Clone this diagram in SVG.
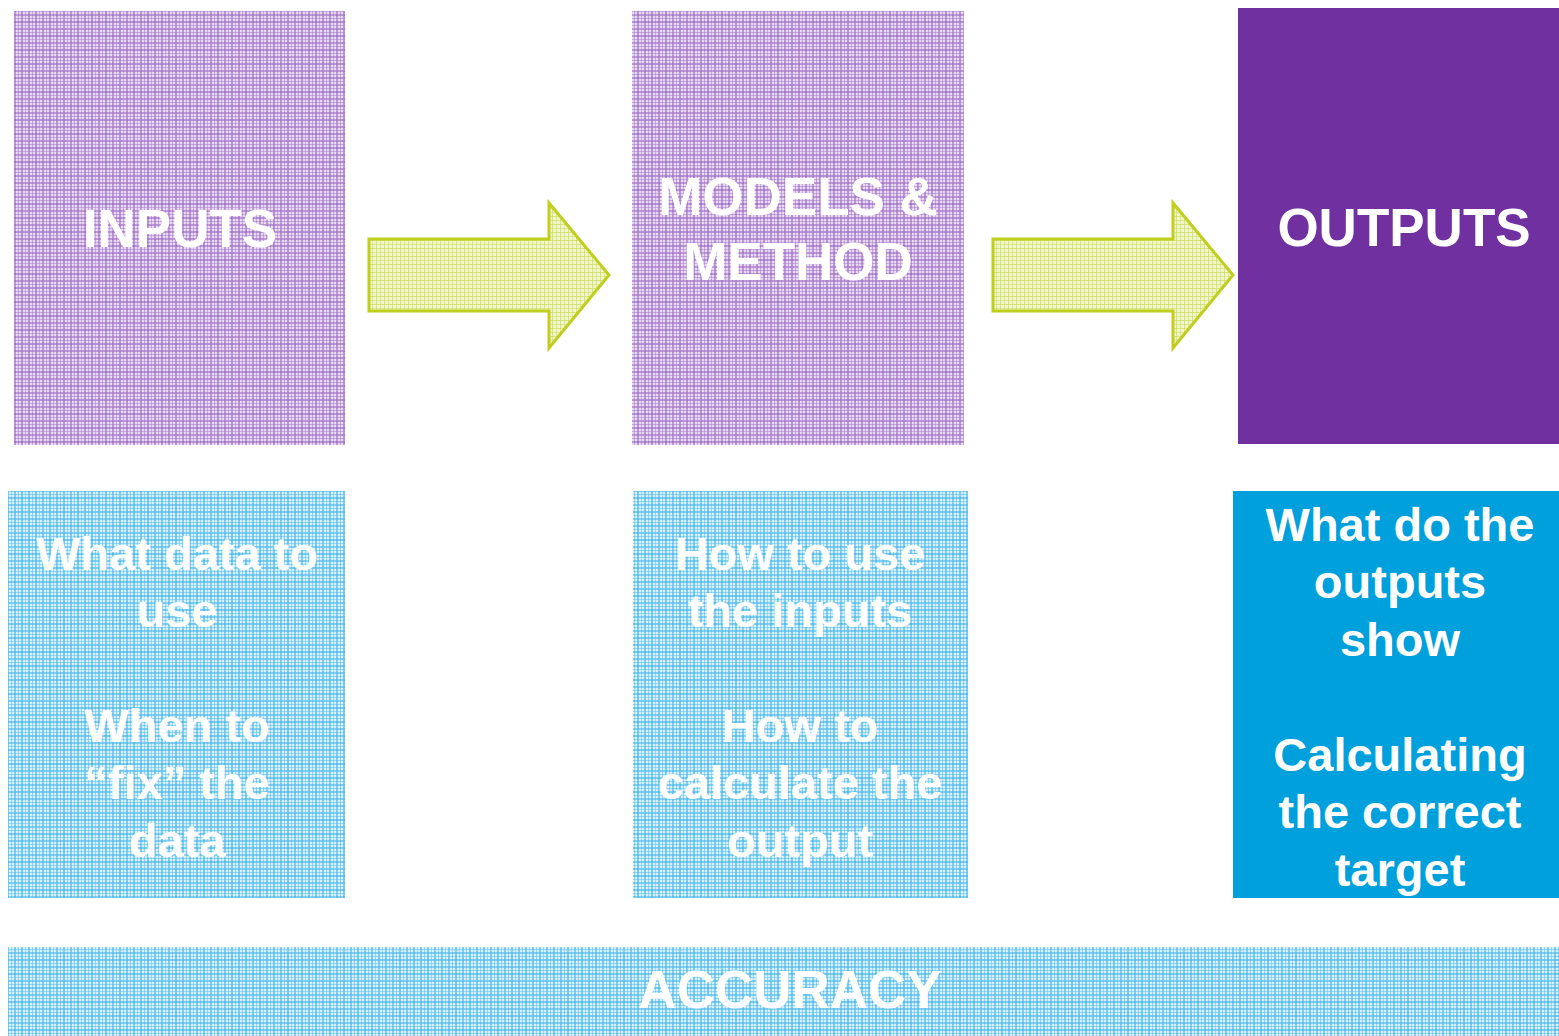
<svg xmlns="http://www.w3.org/2000/svg" width="1559" height="1036" viewBox="0 0 1559 1036">
<defs>
<pattern id="plaidP" width="14" height="14" patternUnits="userSpaceOnUse">
<rect width="14" height="14" fill="#e6d8f0"/>
<rect x="0" y="0" width="2" height="14" fill="#9b66c4" opacity="0.55"/>
<rect x="4" y="0" width="1" height="14" fill="#9b66c4" opacity="0.45"/>
<rect x="7" y="0" width="2" height="14" fill="#8c55b8" opacity="0.5"/>
<rect x="11" y="0" width="1" height="14" fill="#9b66c4" opacity="0.4"/>
<rect x="0" y="0" width="14" height="2" fill="#9b66c4" opacity="0.55"/>
<rect x="0" y="4" width="14" height="1" fill="#9b66c4" opacity="0.45"/>
<rect x="0" y="7" width="14" height="2" fill="#8c55b8" opacity="0.5"/>
<rect x="0" y="11" width="14" height="1" fill="#9b66c4" opacity="0.4"/>
</pattern>
<pattern id="plaidB" width="14" height="14" patternUnits="userSpaceOnUse">
<rect width="14" height="14" fill="#d6f0fb"/>
<rect x="0" y="0" width="2" height="14" fill="#3fb4e8" opacity="0.55"/>
<rect x="4" y="0" width="1" height="14" fill="#3fb4e8" opacity="0.45"/>
<rect x="7" y="0" width="2" height="14" fill="#2aa8e0" opacity="0.5"/>
<rect x="11" y="0" width="1" height="14" fill="#3fb4e8" opacity="0.4"/>
<rect x="0" y="0" width="14" height="2" fill="#3fb4e8" opacity="0.55"/>
<rect x="0" y="4" width="14" height="1" fill="#3fb4e8" opacity="0.45"/>
<rect x="0" y="7" width="14" height="2" fill="#2aa8e0" opacity="0.5"/>
<rect x="0" y="11" width="14" height="1" fill="#3fb4e8" opacity="0.4"/>
</pattern>
<pattern id="plaidG" width="8" height="8" patternUnits="userSpaceOnUse">
<rect width="8" height="8" fill="#f1f6c8"/>
<rect x="0" y="0" width="1" height="8" fill="#c8d850" opacity="0.6"/>
<rect x="4" y="0" width="1" height="8" fill="#c8d850" opacity="0.45"/>
<rect x="0" y="0" width="8" height="1" fill="#c8d850" opacity="0.6"/>
<rect x="0" y="4" width="8" height="1" fill="#c8d850" opacity="0.45"/>
</pattern>
</defs>
<style>
.t{font-family:"Liberation Sans",Arial,sans-serif;font-weight:bold;fill:#ffffff;text-anchor:middle}
.big{font-size:53px}
.mid{font-size:47px}
.arrow{fill:url(#plaidG);stroke:#bfcf1e;stroke-width:3}
</style>
<g id="inputs">
<rect x="14" y="11" width="331" height="434" fill="url(#plaidP)"/>
<text class="t big" x="180" y="247">INPUTS</text>
</g>
<g id="models">
<rect x="632" y="11" width="332" height="434" fill="url(#plaidP)"/>
<text class="t big" x="798" y="215">MODELS &amp;</text>
<text class="t big" x="798" y="280">METHOD</text>
</g>
<g id="outputs">
<rect x="1238" y="8" width="321" height="436" fill="#7030a0"/>
<text class="t big" x="1404" y="246">OUTPUTS</text>
</g>
<g id="inputs-detail">
<rect x="8" y="491" width="337" height="407" fill="url(#plaidB)"/>
<text class="t mid" x="177" y="570">What data to</text>
<text class="t mid" x="177" y="627">use</text>
<text class="t mid" x="177" y="742">When to</text>
<text class="t mid" x="177" y="799">“fix” the</text>
<text class="t mid" x="177" y="857">data</text>
</g>
<g id="models-detail">
<rect x="633" y="491" width="335" height="407" fill="url(#plaidB)"/>
<text class="t mid" x="800" y="570">How to use</text>
<text class="t mid" x="800" y="627">the inputs</text>
<text class="t mid" x="800" y="742">How to</text>
<text class="t mid" x="800" y="799">calculate the</text>
<text class="t mid" x="800" y="857">output</text>
</g>
<g id="outputs-detail">
<rect x="1233" y="491" width="326" height="407" fill="#00a0dc"/>
<text class="t mid" x="1400" y="541">What do the</text>
<text class="t mid" x="1400" y="598">outputs</text>
<text class="t mid" x="1400" y="656">show</text>
<text class="t mid" x="1400" y="771">Calculating</text>
<text class="t mid" x="1400" y="828">the correct</text>
<text class="t mid" x="1400" y="886">target</text>
</g>
<g id="accuracy">
<rect x="8" y="947" width="1551" height="89" fill="url(#plaidB)"/>
<text class="t big" x="790" y="1008">ACCURACY</text>
</g>
<g id="connectors">
<polygon class="arrow" points="369,239 549,239 549,203 609,275 549,348 549,311 369,311"/>
<polygon class="arrow" points="993,239 1173,239 1173,203 1233,275 1173,348 1173,311 993,311"/>
</g>
</svg>
